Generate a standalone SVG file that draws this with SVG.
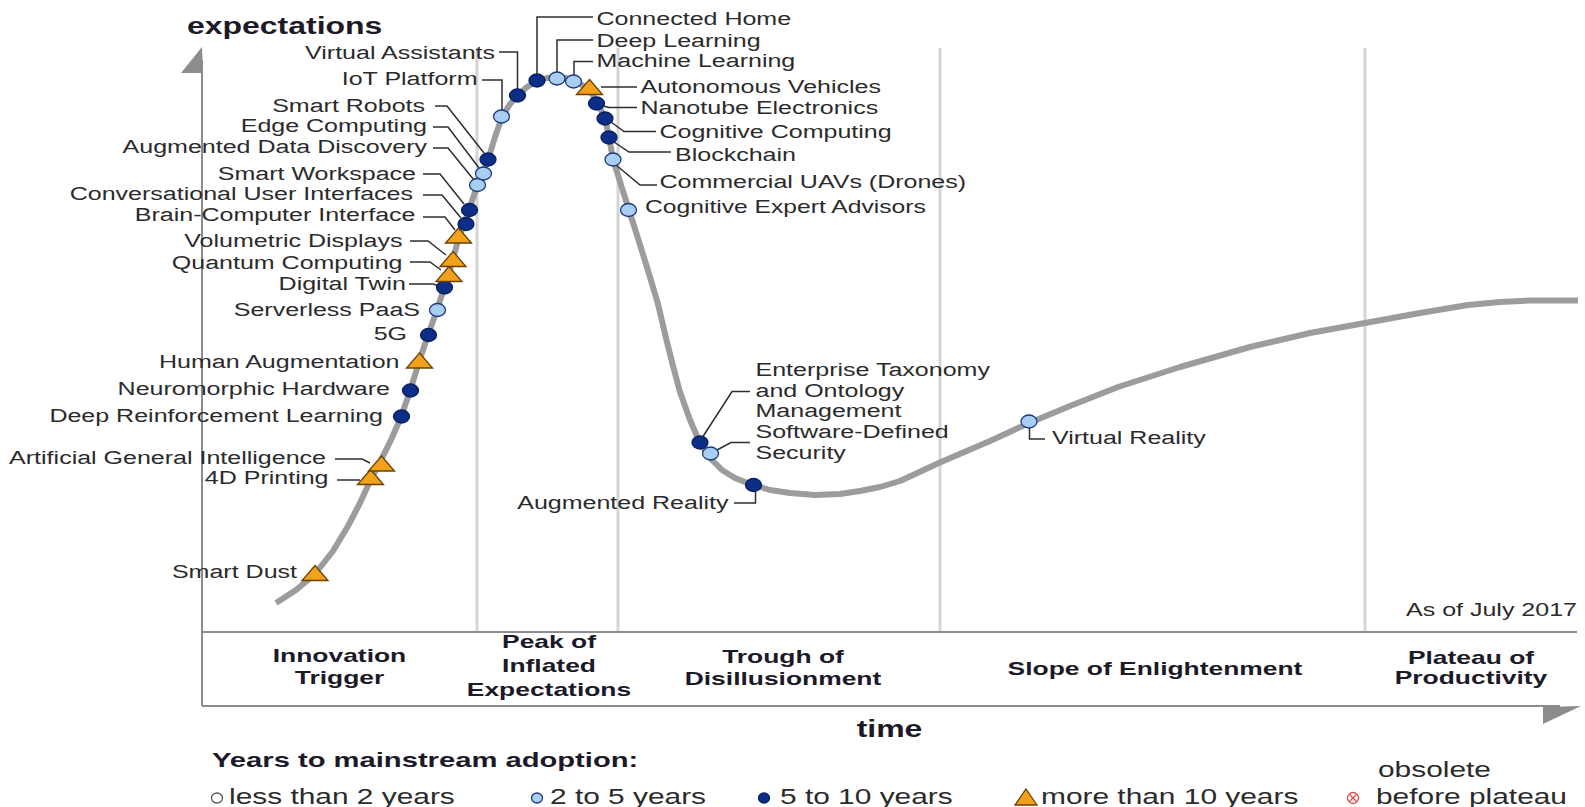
<svg xmlns="http://www.w3.org/2000/svg" width="1585" height="807" viewBox="0 0 1585 807">
<defs>
<style>
text{font-family:"Liberation Sans",Arial,Helvetica,sans-serif}
.l{font-size:18px;fill:#2b2b2b}
.e{text-anchor:end}
.b{font-weight:bold;fill:#1c1a28}
.ph{font-size:19px;text-anchor:middle}
.lg{font-size:21.5px;fill:#2b2b2b}
.lt{fill:#a8cff3;stroke:#1c3a7a;stroke-width:1.3}
.dk{fill:#0c2e86;stroke:#081f5e;stroke-width:1.3}
.tr{fill:#f2a11d;stroke:#6a4200;stroke-width:1.3}
.ld{fill:none;stroke:#2e2e2e;stroke-width:1.5}
.dv{stroke:#d5d5d5;stroke-width:3}
.ax{stroke:#8c8c8c;stroke-width:2;fill:none}
</style>
<ellipse id="c" rx="8" ry="6.5"/>
<polygon id="t" points="0,-9 13,6 -13,6"/>
</defs>
<rect width="1585" height="807" fill="#fff"/>

<g id="frame">
<line class="dv" x1="477" y1="48" x2="477" y2="631"/>
<line class="dv" x1="618" y1="48" x2="618" y2="631"/>
<line class="dv" x1="940" y1="48" x2="940" y2="631"/>
<line class="dv" x1="1365" y1="48" x2="1365" y2="631"/>
<line class="ax" x1="202" y1="60" x2="202" y2="706"/>
<polygon points="202,47 181,73 203,73" fill="#8c8c8c"/>
<line class="ax" x1="202" y1="632" x2="1577" y2="632"/>
<line class="ax" x1="202" y1="706" x2="1560" y2="706"/>
<polygon points="1543,707 1581,706 1543,724" fill="#8c8c8c"/>
<text class="b" transform="translate(187 34) scale(1.39 1)" font-size="23">expectations</text>
<text class="b" text-anchor="middle" transform="translate(889.5 737) scale(1.39 1)" font-size="23">time</text>
<text class="l e" transform="translate(1577 616) scale(1.39 1)">As of July 2017</text>
</g>

<g id="phases">
<text class="b ph" transform="translate(339.5 662) scale(1.39 1)">Innovation</text>
<text class="b ph" transform="translate(339.5 684) scale(1.39 1)">Trigger</text>
<text class="b ph" transform="translate(549 648) scale(1.39 1)">Peak of</text>
<text class="b ph" transform="translate(549 672) scale(1.39 1)">Inflated</text>
<text class="b ph" transform="translate(549 696) scale(1.39 1)">Expectations</text>
<text class="b ph" transform="translate(783 663) scale(1.39 1)">Trough of</text>
<text class="b ph" transform="translate(783 685) scale(1.39 1)">Disillusionment</text>
<text class="b ph" transform="translate(1155 675) scale(1.39 1)">Slope of Enlightenment</text>
<text class="b ph" transform="translate(1471 664) scale(1.39 1)">Plateau of</text>
<text class="b ph" transform="translate(1471 684) scale(1.39 1)">Productivity</text>
</g>

<polyline id="curve" fill="none" stroke="#9c9c9c" stroke-width="6" stroke-linejoin="round" stroke-linecap="butt" points="276,603 296,590 315,574 333,551 348,526 360,503 371,479 381,460 391,440 401,417 410,391 419,362 428,335 437,310 444,288 448,275 453,260 458,240 464,224 469,210 477,186 483,173 488,160 495,137 502,117 510,104 518,95 527,87 537,81 547,78 557,77 566,78 574,81 582,85 589,89 597,102 605,118 609,137 613,159 621,185 629,210 641,248 650,277 658,304 666,338 673,366 680,392 690,420 700,443 711,459 722,470 735,478 750,484 770,490 790,493 815,495 840,494 860,491 880,487 900,481 941,462 990,441 1029,423 1070,406 1118,387 1180,367 1250,347 1310,333 1365,323 1420,313 1468,305 1500,302 1530,300.5 1578,300.5"/>

<g id="connectors">
<path class="ld" d="M337,480 H360"/>
<path class="ld" d="M335,459 H362 L370,463"/>
<path class="ld" d="M409,284 H433 L439,286"/>
<path class="ld" d="M410,262 H430 L441,270"/>
<path class="ld" d="M410,241 H428 L446,255"/>
<path class="ld" d="M423,217 H445 L455,230"/>
<path class="ld" d="M423,195 H442 L461,218"/>
<path class="ld" d="M423,174 H440 L464,204"/>
<path class="ld" d="M433,148 H448 L474,180"/>
<path class="ld" d="M433,127 H448 L479,168"/>
<path class="ld" d="M435,106 H447 L484,153"/>
<path class="ld" d="M482,80 H502 V111"/>
<path class="ld" d="M499,52 H517.5 V90"/>
<path class="ld" d="M593,17 H537 V75"/>
<path class="ld" d="M593,40 H557 V72"/>
<path class="ld" d="M593,61.5 H574 V76"/>
<path class="ld" d="M601,87 H637"/>
<path class="ld" d="M603,106 L609,107.5 H637"/>
<path class="ld" d="M611,122 L624,131.5 H656"/>
<path class="ld" d="M614,142 L629,152 H671"/>
<path class="ld" d="M616,165 L640,185 H657"/>
<path class="ld" d="M703,436.5 L732,391.5 H750"/>
<path class="ld" d="M717,450 L731,442.5 H750"/>
<path class="ld" d="M734,503 H755.5 V491"/>
<path class="ld" d="M1029.5,428 V439 H1045"/>
</g>

<g id="n-smart-dust"><use href="#t" class="tr" x="315" y="574.5"/><text class="l e" transform="translate(297 577.5) scale(1.39 1)">Smart Dust</text></g>
<g id="n-4d-printing"><use href="#t" class="tr" x="370.5" y="478.5"/><text class="l e" transform="translate(328.5 484) scale(1.39 1)">4D Printing</text></g>
<g id="n-agi"><use href="#t" class="tr" x="381.5" y="465"/><text class="l e" transform="translate(326 464) scale(1.39 1)">Artificial General Intelligence</text></g>
<g id="n-drl"><use href="#c" class="dk" x="401.5" y="416.5"/><text class="l e" transform="translate(383 421.5) scale(1.39 1)">Deep Reinforcement Learning</text></g>
<g id="n-neuromorphic"><use href="#c" class="dk" x="410.5" y="390.5"/><text class="l e" transform="translate(390 395) scale(1.39 1)">Neuromorphic Hardware</text></g>
<g id="n-human-aug"><use href="#t" class="tr" x="419.5" y="362"/><text class="l e" transform="translate(399.5 367.5) scale(1.39 1)">Human Augmentation</text></g>
<g id="n-5g"><use href="#c" class="dk" x="428.5" y="335"/><text class="l e" transform="translate(407 340) scale(1.39 1)">5G</text></g>
<g id="n-serverless"><use href="#c" class="lt" x="437.5" y="310"/><text class="l e" transform="translate(420 315.5) scale(1.39 1)">Serverless PaaS</text></g>
<g id="n-digital-twin"><use href="#c" class="dk" x="444.5" y="287.5"/><text class="l e" transform="translate(406 289.5) scale(1.39 1)">Digital Twin</text></g>
<g id="n-quantum"><use href="#t" class="tr" x="449" y="275.5"/><text class="l e" transform="translate(402.5 268.5) scale(1.39 1)">Quantum Computing</text></g>
<g id="n-volumetric"><use href="#t" class="tr" x="453" y="260.5"/><text class="l e" transform="translate(402.5 246.5) scale(1.39 1)">Volumetric Displays</text></g>
<g id="n-bci"><use href="#t" class="tr" x="458.5" y="237"/><text class="l e" transform="translate(415.5 220.5) scale(1.39 1)">Brain-Computer Interface</text></g>
<g id="n-cui"><use href="#c" class="dk" x="466" y="224"/><text class="l e" transform="translate(413 199.5) scale(1.39 1)">Conversational User Interfaces</text></g>
<g id="n-smart-workspace"><use href="#c" class="dk" x="469.5" y="210"/><text class="l e" transform="translate(416 179.5) scale(1.39 1)">Smart Workspace</text></g>
<g id="n-add"><use href="#c" class="lt" x="477.5" y="185"/><text class="l e" transform="translate(427 152.5) scale(1.39 1)">Augmented Data Discovery</text></g>
<g id="n-edge"><use href="#c" class="lt" x="483.5" y="173.5"/><text class="l e" transform="translate(427 131.5) scale(1.39 1)">Edge Computing</text></g>
<g id="n-smart-robots"><use href="#c" class="dk" x="488" y="159.5"/><text class="l e" transform="translate(425 111.5) scale(1.39 1)">Smart Robots</text></g>
<g id="n-iot"><use href="#c" class="lt" x="501.5" y="116.5"/><text class="l e" transform="translate(477.5 85) scale(1.39 1)">IoT Platform</text></g>
<g id="n-virtual-assistants"><use href="#c" class="dk" x="517.5" y="95.5"/><text class="l e" transform="translate(495 59) scale(1.39 1)">Virtual Assistants</text></g>
<g id="n-connected-home"><use href="#c" class="dk" x="537" y="80.5"/><text class="l" transform="translate(596.5 25) scale(1.39 1)">Connected Home</text></g>
<g id="n-deep-learning"><use href="#c" class="lt" x="557" y="78.5"/><text class="l" transform="translate(596.5 46.5) scale(1.39 1)">Deep Learning</text></g>
<g id="n-machine-learning"><use href="#c" class="lt" x="573.5" y="81.5"/><text class="l" transform="translate(596.5 66.5) scale(1.39 1)">Machine Learning</text></g>
<g id="n-autonomous"><use href="#t" class="tr" x="589.5" y="88.5"/><text class="l" transform="translate(640.5 92.5) scale(1.39 1)">Autonomous Vehicles</text></g>
<g id="n-nanotube"><use href="#c" class="dk" x="596.5" y="103.5"/><text class="l" transform="translate(640.5 113.5) scale(1.39 1)">Nanotube Electronics</text></g>
<g id="n-cognitive-computing"><use href="#c" class="dk" x="605" y="118.5"/><text class="l" transform="translate(659.5 137.5) scale(1.39 1)">Cognitive Computing</text></g>
<g id="n-blockchain"><use href="#c" class="dk" x="609" y="137.5"/><text class="l" transform="translate(675 160.5) scale(1.39 1)">Blockchain</text></g>
<g id="n-uavs"><use href="#c" class="lt" x="613" y="159.5"/><text class="l" transform="translate(659.5 188) scale(1.39 1)">Commercial UAVs (Drones)</text></g>
<g id="n-cea"><use href="#c" class="lt" x="628.5" y="210"/><text class="l" transform="translate(645 213) scale(1.37 1)">Cognitive Expert Advisors</text></g>
<g id="n-etom"><use href="#c" class="dk" x="700" y="442.5"/><text class="l" transform="translate(755.5 376) scale(1.39 1)">Enterprise Taxonomy</text><text class="l" transform="translate(755.5 396.5) scale(1.39 1)">and Ontology</text><text class="l" transform="translate(755.5 417) scale(1.39 1)">Management</text></g>
<g id="n-sds"><use href="#c" class="lt" x="710.5" y="453.5"/><text class="l" transform="translate(755.5 438) scale(1.39 1)">Software-Defined</text><text class="l" transform="translate(755.5 458.5) scale(1.39 1)">Security</text></g>
<g id="n-ar"><use href="#c" class="dk" x="753.5" y="485"/><text class="l e" transform="translate(728.5 509) scale(1.39 1)">Augmented Reality</text></g>
<g id="n-vr"><use href="#c" class="lt" x="1029" y="421.5"/><text class="l" transform="translate(1052 443.5) scale(1.39 1)">Virtual Reality</text></g>

<g id="legend">
<text class="b" transform="translate(212 767) scale(1.39 1)" font-size="21">Years to mainstream adoption:</text>
<ellipse cx="217" cy="798" rx="5.5" ry="5" fill="#fff" stroke="#555" stroke-width="1.3"/>
<text class="lg" transform="translate(229 804) scale(1.39 1)">less than 2 years</text>
<ellipse cx="537" cy="798" rx="5.5" ry="5" class="lt"/>
<text class="lg" transform="translate(550 804) scale(1.39 1)">2 to 5 years</text>
<ellipse cx="764" cy="798" rx="5.5" ry="5" class="dk"/>
<text class="lg" transform="translate(780 804) scale(1.39 1)">5 to 10 years</text>
<polygon points="1026,789 1037,805 1015,805" class="tr"/>
<text class="lg" transform="translate(1041 804) scale(1.39 1)">more than 10 years</text>
<g stroke="#e04848" stroke-width="1.3" fill="none"><circle cx="1353" cy="798" r="5.5"/><path d="M1349.5,794.5 L1356.5,801.5 M1356.5,794.5 L1349.5,801.5"/></g>
<text class="lg" transform="translate(1378 777) scale(1.39 1)">obsolete</text>
<text class="lg" transform="translate(1376 804) scale(1.39 1)">before plateau</text>
</g>
</svg>
